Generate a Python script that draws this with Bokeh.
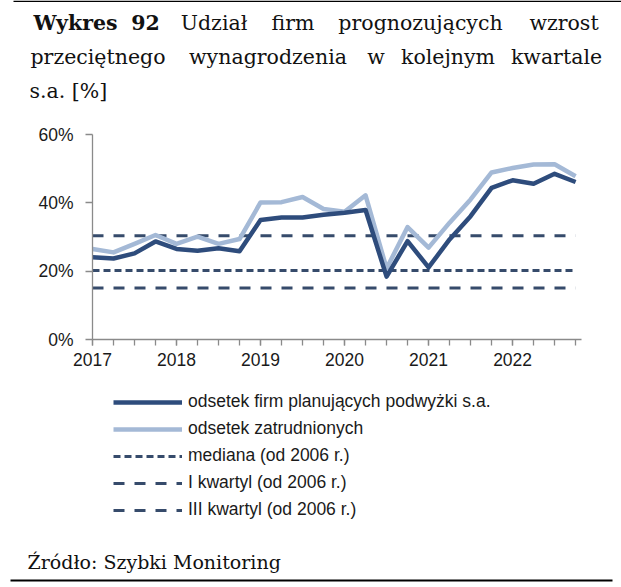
from bokeh.plotting import figure
from bokeh.models import (Range1d, FixedTicker, PrintfTickFormatter, Label,
                          Legend, LegendItem, BoxAnnotation)
from bokeh.embed import file_html
from bokeh.resources import INLINE

# ---------------- data ----------------
quarters = ["2017Q1", "2017Q2", "2017Q3", "2017Q4",
            "2018Q1", "2018Q2", "2018Q3", "2018Q4",
            "2019Q1", "2019Q2", "2019Q3", "2019Q4",
            "2020Q1", "2020Q2", "2020Q3", "2020Q4",
            "2021Q1", "2021Q2", "2021Q3", "2021Q4",
            "2022Q1", "2022Q2", "2022Q3", "2022Q4"]
firms_pct = [24.1, 23.7, 25.2, 28.7, 26.5, 26.0, 26.7, 25.8,
             35.0, 35.7, 35.7, 36.5, 37.1, 37.9, 18.4, 28.8,
             21.1, 29.3, 36.1, 44.4, 46.6, 45.6, 48.5, 46.1]
employees_pct = [26.5, 25.5, 28.0, 30.6, 28.0, 30.1, 28.0, 29.4,
                 40.1, 40.2, 41.7, 38.2, 37.4, 42.2, 20.8, 32.9,
                 26.9, 34.2, 41.0, 48.9, 50.2, 51.2, 51.3, 47.8]
median_pct = 20.2
q1_pct = 15.1
q3_pct = 30.4
year_ticks = [2017, 2018, 2019, 2020, 2021, 2022]
y_ticks = [0, 20, 40, 60]
legend_labels = ["odsetek firm planujących podwyżki s.a.",
                 "odsetek zatrudnionych",
                 "mediana (od 2006 r.)",
                 "I kwartyl (od 2006 r.)",
                 "III kwartyl (od 2006 r.)"]
title_line1 = [("Wykres", "bold"), ("92", "bold"), ("Udział", "normal"),
               ("firm", "normal"), ("prognozujących", "normal"), ("wzrost", "normal")]
title_line2 = ["przeciętnego", "wynagrodzenia", "w", "kolejnym", "kwartale"]
title_line3 = "s.a. [%]"
source_text = "Źródło: Szybki Monitoring"

x = [int(q[:4]) + (int(q[-1]) - 1) / 4 for q in quarters]

# ---------------- layout / style ----------------
W, H = 621, 587
# plot area (canvas pixels) and the data span it shows
PL, PR, PT, PB = 92, 581, 134, 339
X0, X1, Y0, Y1 = 2017, 2022.82, 0, 60
sx = (PR - PL) / (X1 - X0)
sy = (PB - PT) / (Y1 - Y0)

DARK = "#2E4C7C"
LIGHT = "#A4B9D6"
DASH = "#364B6B"
AXIS = "#8A8A8A"
SANS = "Liberation Sans"
SERIF = "DejaVu Serif"
MED_DASH = "7 4"
QRT_DASH = "11 10"

p = figure(width=W, height=H, output_backend="svg", toolbar_location=None,
           x_range=Range1d(X0 - PL / sx, X1 + (W - PR) / sx),
           y_range=Range1d(Y0 - (H - PB) / sy, Y1 + PT / sy),
           min_border=0)
p.outline_line_color = None
p.xgrid.visible = False
p.ygrid.visible = False

# axes pinned to the plot area
p.xaxis.fixed_location = Y0
p.yaxis.fixed_location = X0
p.xaxis.bounds = (X0, X1)
p.yaxis.bounds = (Y0, Y1)
p.xaxis.ticker = FixedTicker(ticks=year_ticks, minor_ticks=x)
p.xaxis.major_tick_out = 6
p.xaxis.major_tick_in = 0
p.xaxis.minor_tick_out = 6
p.xaxis.minor_tick_in = 0
p.xaxis.major_label_standoff = 7
p.yaxis.ticker = FixedTicker(ticks=y_ticks, minor_ticks=[])
p.yaxis.formatter = PrintfTickFormatter(format="%d%%")
p.yaxis.major_tick_out = 7
p.yaxis.major_tick_in = 0
p.yaxis.major_label_standoff = 12
for ax in (p.xaxis, p.yaxis):
    ax.axis_line_color = AXIS
    ax.axis_line_width = 1.3
    ax.major_tick_line_color = AXIS
    ax.major_tick_line_width = 1.3
    ax.minor_tick_line_color = AXIS
    ax.minor_tick_line_width = 1.3
    ax.major_label_text_font = SANS
    ax.major_label_text_font_size = "17.5px"
    ax.major_label_text_color = "#1a1a1a"

r_med = p.line([x[0], x[-1]], [median_pct, median_pct], line_color=DASH,
               line_width=3, line_dash=MED_DASH)
r_q1 = p.line([x[0], x[-1]], [q1_pct, q1_pct], line_color=DASH,
              line_width=3, line_dash=QRT_DASH)
r_q3 = p.line([x[0], x[-1]], [q3_pct, q3_pct], line_color=DASH,
              line_width=3, line_dash=QRT_DASH)
r_emp = p.line(x, employees_pct, line_color=LIGHT, line_width=4.5, line_join="round")
r_firms = p.line(x, firms_pct, line_color=DARK, line_width=4.5, line_join="round")

legend = Legend(
    items=[LegendItem(label=lab, renderers=[r]) for lab, r in
           zip(legend_labels, [r_firms, r_emp, r_med, r_q1, r_q3])],
    location=(113, H - 520), orientation="vertical",
    glyph_width=69, glyph_height=20, label_height=20, spacing=6,
    padding=0, margin=0, label_standoff=6, click_policy="none",
    border_line_color=None, background_fill_alpha=0,
    label_text_font=SANS, label_text_font_size="17.5px",
    label_text_color="#1a1a1a")
p.add_layout(legend)


def add_text(cx, cy, text, size="20.5px", weight="normal", align="left", font=SERIF):
    p.add_layout(Label(x=cx, y=H - cy, x_units="screen", y_units="screen",
                       text=text, text_font=font, text_font_size=size,
                       text_font_style=weight, text_align=align,
                       text_baseline="alphabetic", text_color="#111111"))


def add_rule(left, right, top, bottom):
    p.add_layout(BoxAnnotation(left=left, right=right, top=H - top, bottom=H - bottom,
                               left_units="screen", right_units="screen",
                               top_units="screen", bottom_units="screen",
                               fill_color="black", fill_alpha=1, line_color=None))


add_rule(13, 621, 0, 1.5)
line1_centers = [75, 145, 213.5, 292.5, 420, 563.5]
for (word, weight), cx in zip(title_line1, line1_centers):
    add_text(cx, 22, word, weight=weight, align="center")
line2_centers = [97.5, 267.5, 375.5, 447.5, 556]
for word, cx in zip(title_line2, line2_centers):
    add_text(cx, 56, word, align="center")
add_text(29, 90.5, title_line3)
add_text(27, 561, source_text, size="19px")
add_rule(10, 612, 579, 581)

open("out.html", "w").write(file_html(p, INLINE))
